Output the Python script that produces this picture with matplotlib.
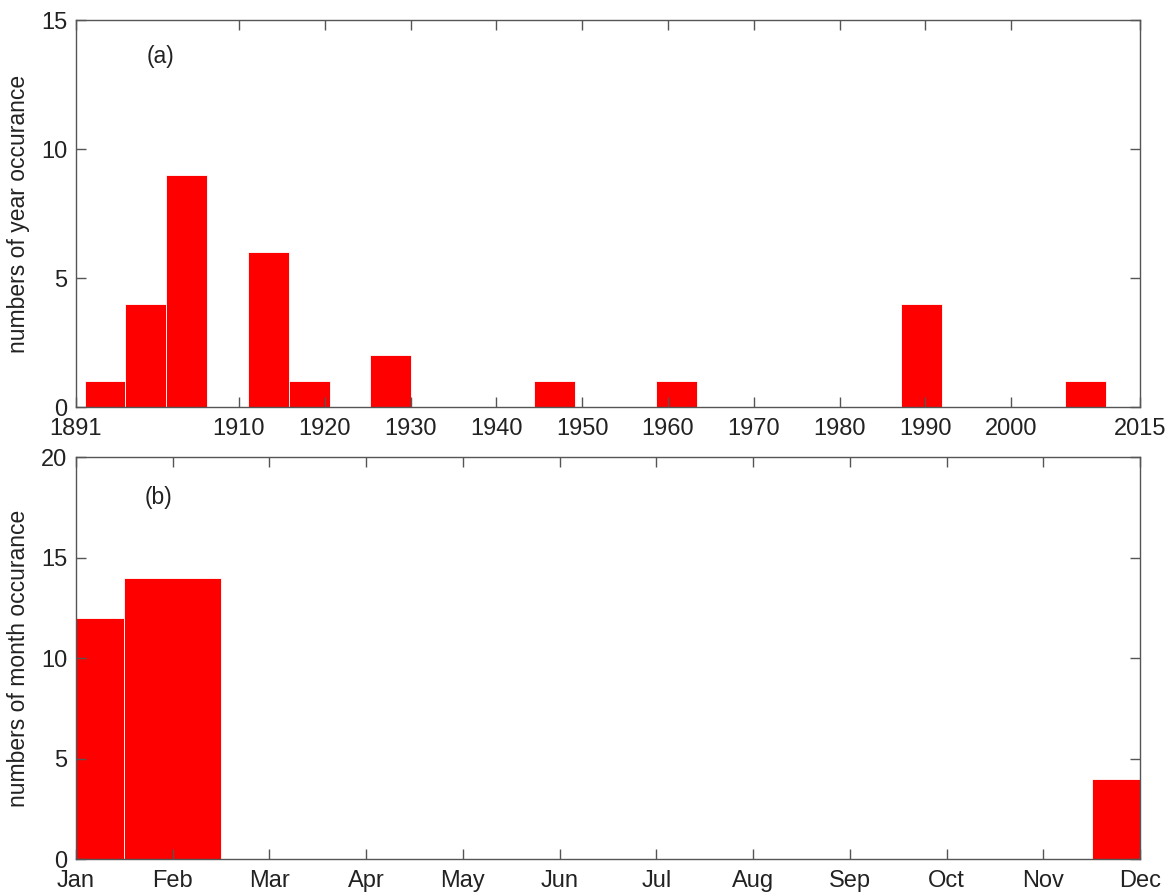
import numpy as np
import matplotlib
matplotlib.use('Agg')
import matplotlib.pyplot as plt

# yearly histogram: 25 bins starting at 1892
year_bin_start = 1892
year_bin_width = 4.76
year_counts = [1, 4, 9, 0, 6, 1, 0, 2, 0, 0, 0, 1, 0, 0, 1,
               0, 0, 0, 0, 0, 4, 0, 0, 0, 1]
year_ticks = [1891, 1910, 1920, 1930, 1940, 1950, 1960, 1970, 1980, 1990, 2000, 2015]

# monthly histogram
months = list(range(1, 13))
month_counts = [12, 14, 0, 0, 0, 0, 0, 0, 0, 0, 0, 4]
month_labels = ['Jan', 'Feb', 'Mar', 'Apr', 'May', 'Jun',
                'Jul', 'Aug', 'Sep', 'Oct', 'Nov', 'Dec']

plt.rcParams['font.family'] = ['Liberation Sans', 'DejaVu Sans']
plt.rcParams['font.size'] = 17

spine_col = '#555555'
text_col = '#222222'


def style_axes(ax):
    for s in ax.spines.values():
        s.set_color(spine_col)
        s.set_linewidth(1.0)
    ax.tick_params(direction='in', length=7, width=1, color=spine_col,
                   labelcolor=text_col, top=True, right=True)
    ax.tick_params(axis='x', pad=8)
    ax.tick_params(axis='y', pad=6)


fig = plt.figure(figsize=(11.74, 8.94), dpi=100)
ax1 = fig.add_axes([0.0647, 0.5447, 0.9063, 0.4329])
ax2 = fig.add_axes([0.0647, 0.0391, 0.9063, 0.4497])

edges = year_bin_start + year_bin_width * np.arange(len(year_counts))
ax1.bar(edges, year_counts, width=year_bin_width, align='edge',
        color='#ff0000', edgecolor='white', linewidth=0.6)
ax1.set_xlim(1891, 2015)
ax1.set_ylim(0, 15)
ax1.set_xticks(year_ticks)
ax1.set_yticks([0, 5, 10, 15])
ax1.set_ylabel('numbers of year occurance', color=text_col, fontsize=16.5, labelpad=8)
ax1.text(1900.8, 13.6, '(a)', ha='center', va='center', color=text_col, fontsize=16.5)
style_axes(ax1)

ax2.bar(months, month_counts, width=1.0, align='center',
        color='#ff0000', edgecolor='white', linewidth=0.6)
ax2.set_xlim(1, 12)
ax2.set_ylim(0, 20)
ax2.set_xticks(months)
ax2.set_xticklabels(month_labels)
ax2.set_yticks([0, 5, 10, 15, 20])
ax2.set_ylabel('numbers of month occurance', color=text_col, fontsize=16.5, labelpad=8)
ax2.text(1.85, 18.0, '(b)', ha='center', va='center', color=text_col, fontsize=16.5)
style_axes(ax2)

fig.savefig('out.png', dpi=100)
